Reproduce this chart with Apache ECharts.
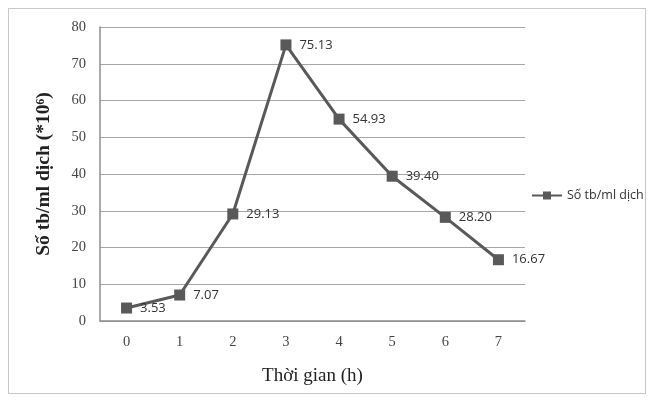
<!DOCTYPE html>
<html>
<head>
<meta charset="utf-8">
<script src="https://cdn.jsdelivr.net/npm/echarts@6/dist/echarts.min.js"></script>
<style>
  html, body { margin: 0; padding: 0; background: #fff; }
  #frame { position: absolute; left: 8px; top: 8px; width: 638px; height: 386px; border: 1px solid #c8c8c8; box-sizing: border-box; }
  #chart { width: 655px; height: 400px; position: absolute; left: 0; top: 0; }
</style>
</head>
<body>
<div id="frame"></div>
<div id="chart"></div>
<script>
const hours = ['0', '1', '2', '3', '4', '5', '6', '7'];
const cellCounts = [3.53, 7.07, 29.13, 75.13, 54.93, 39.40, 28.20, 16.67];
const seriesName = 'Số tb/ml dịch';

const chart = echarts.init(document.getElementById('chart'));
chart.setOption({
  animation: false,
  grid: { left: 100, right: 130, top: 27, bottom: 79 },
  legend: {
    data: [seriesName],
    left: 526, top: 184,
    itemWidth: 30, itemHeight: 10,
    itemGap: 2,
    textStyle: { fontFamily: 'Open Sans', fontSize: 12.5, color: '#333' }
  },
  xAxis: {
    type: 'category',
    data: hours,
    boundaryGap: true,
    axisLine: { lineStyle: { color: '#8c8c8c', width: 1.5 } },
    axisTick: { show: false },
    axisLabel: { fontFamily: 'Liberation Serif', fontSize: 14.5, color: '#444', margin: 14 },
    name: 'Thời gian (h)',
    nameLocation: 'middle',
    nameGap: 46,
    nameTextStyle: { fontFamily: 'Liberation Serif', fontSize: 19, color: '#222' }
  },
  yAxis: {
    type: 'value',
    min: 0, max: 80, interval: 10,
    axisLine: { show: true, lineStyle: { color: '#8c8c8c', width: 1.5 } },
    axisTick: { show: false },
    splitLine: { lineStyle: { color: '#a6a6a6', width: 1 } },
    axisLabel: { fontFamily: 'Liberation Serif', fontSize: 14.5, color: '#444', margin: 14 },
    name: 'Số tb/ml dịch (*10⁶)',
    nameLocation: 'middle',
    nameGap: 46,
    nameTextStyle: { fontFamily: 'Liberation Serif', fontSize: 19.5, fontWeight: 'bold', color: '#222' }
  },
  series: [{
    name: seriesName,
    type: 'line',
    data: cellCounts,
    symbol: 'rect',
    symbolSize: 11,
    itemStyle: { color: '#595959' },
    lineStyle: { color: '#595959', width: 3 },
    label: {
      show: true,
      position: 'right',
      distance: 8,
      formatter: p => p.value.toFixed(2),
      fontFamily: 'Open Sans', fontSize: 13, color: '#333'
    }
  }]
});
</script>
</body>
</html>
